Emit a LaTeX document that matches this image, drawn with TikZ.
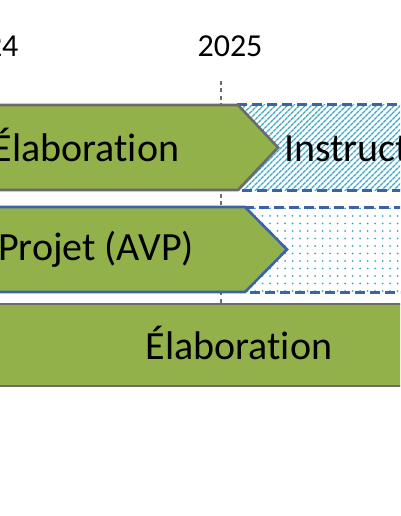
\documentclass[tikz,border=0pt]{standalone}
\usepackage{fontspec}
\setmainfont[Ligatures=NoCommon]{Carlito}
\usetikzlibrary{patterns.meta}
\definecolor{barGreen}{HTML}{93B14A}
\definecolor{barGray}{HTML}{6B6B6B}
\definecolor{dashBlue}{HTML}{3C63A6}
\definecolor{hatchTeal}{HTML}{3FA6C4}
\begin{document}
\begin{tikzpicture}
[
x = 1pt, y = -1pt,
bar/.style = {fill=barGreen, draw=barGray, line width=2.6pt},
bar blue/.style = {fill=barGreen, draw=dashBlue, line width=2.6pt},
planned/.style = {draw=dashBlue, line width=3pt, dash pattern=on 10pt off 5pt},
hatched/.style = {pattern={Lines[angle=45, distance=4pt, line width=1.6pt]}, pattern color=hatchTeal},
dotty/.style = {pattern={Dots[distance=7.5pt, radius=1pt]}, pattern color=hatchTeal},
bar text/.style = {font=\fontsize{40}{48}\selectfont, inner sep=0pt, anchor=base},
year text/.style = {font=\fontsize{32}{38}\selectfont, inner sep=0pt, anchor=base}
]
\useasboundingbox (0,0) rectangle (400,516);
\clip (0,0) rectangle (400,516);

% years
\node [year text] (y2024) at (-14,57) {2024};
\node [year text] (y2025) at (230,57) {2025};
\coordinate (tick top) at (221,81);
\coordinate (tick bottom) at (221,304);
\draw [barGray, line width=1.2pt, dash pattern=on 4pt off 3.5pt] (tick top) -- (tick bottom);

% row 1
\path [hatched, planned] (237,105) rectangle (412,190);
\path [bar] (-10,105) -- (238,105) -- (278,147.5) -- (238,190) -- (-10,190) -- cycle;
\node [bar text] (elab top) at (86,161) {Élaboration};
\node [bar text, anchor=base west] (instr) at (284,161) {Instruction};

% row 2
\path [dotty, planned] (245,207) rectangle (412,292);
\path [bar blue] (-10,207) -- (245,207) -- (287,249.5) -- (245,292) -- (-10,292) -- cycle;
\node [bar text] (avp) at (96,260) {Projet (AVP)};

% row 3
\path [bar] (-10,304) rectangle (412,386);
\node [bar text] (elab bottom) at (239,359) {Élaboration};
\end{tikzpicture}
\end{document}
